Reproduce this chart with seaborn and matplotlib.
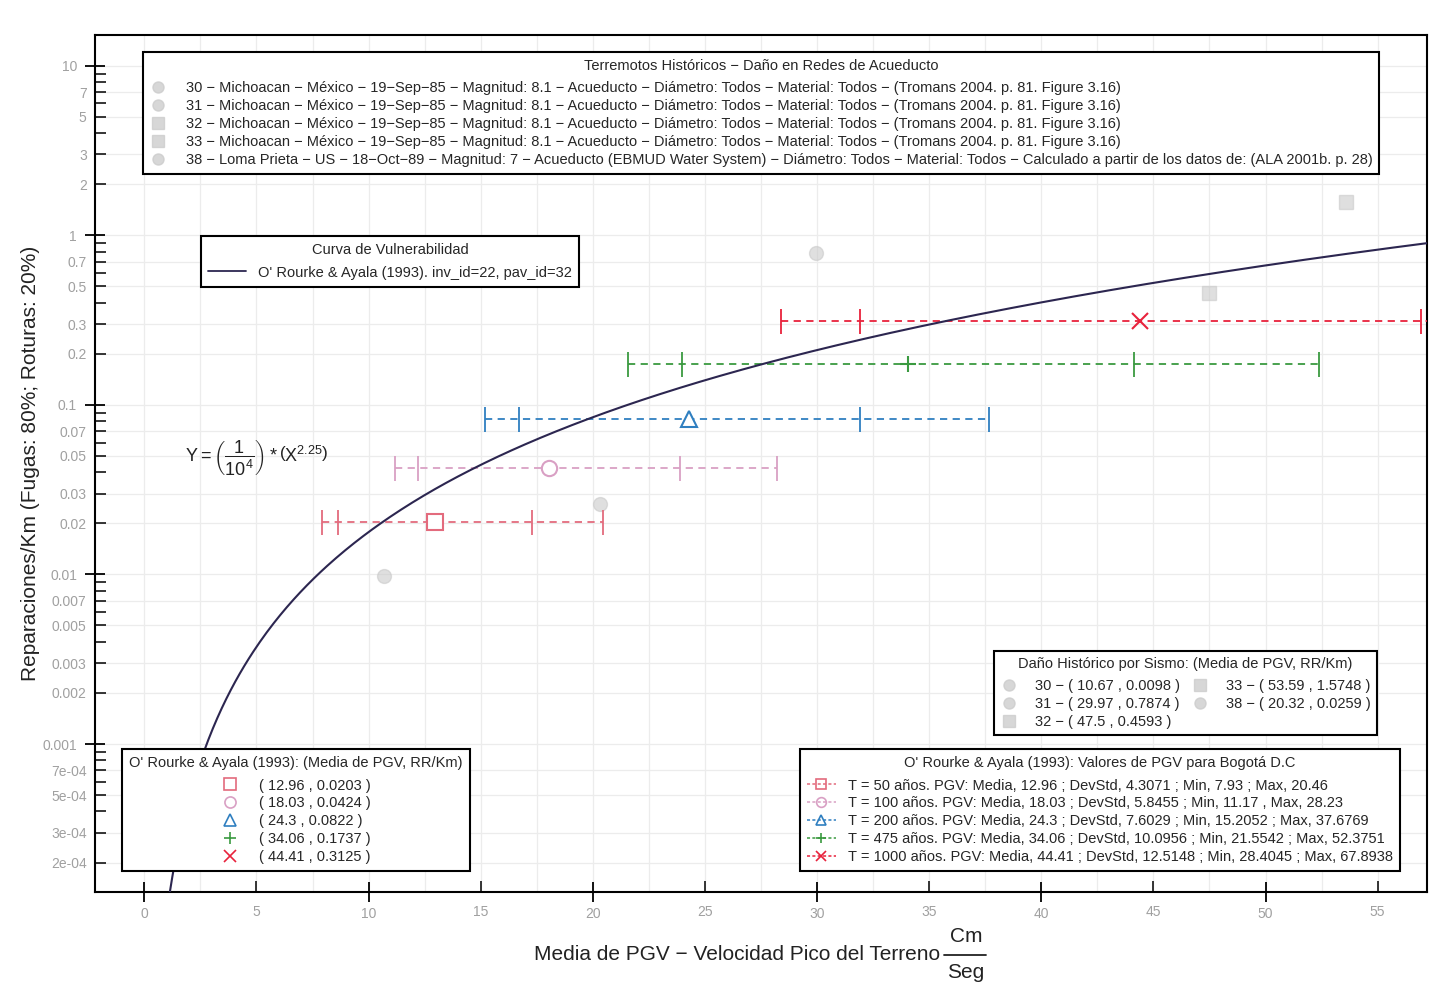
import numpy as np
import pandas as pd
import matplotlib
matplotlib.use("Agg")
import matplotlib.pyplot as plt
import seaborn as sns
from matplotlib.lines import Line2D
from matplotlib.ticker import LogLocator, FuncFormatter, MultipleLocator

# ---------------- data ----------------
coef = 1e-4
expo = 2.25
curve_x_range = (0.05, 60.0)

periodos = ["50", "100", "200", "475", "1000"]
media = [12.96, 18.03, 24.3, 34.06, 44.41]
devstd = [4.3071, 5.8455, 7.6029, 10.0956, 12.5148]
pgv_min = [7.93, 11.17, 15.2052, 21.5542, 28.4045]
pgv_max = [20.46, 28.23, 37.6769, 52.3751, 67.8938]
rr_media = [0.0203, 0.0424, 0.0822, 0.1737, 0.3125]
esc_labels = [
    "T = 50 años. PGV: Media, 12.96 ; DevStd, 4.3071 ; Min, 7.93 ; Max, 20.46",
    "T = 100 años. PGV: Media, 18.03 ; DevStd, 5.8455 ; Min, 11.17 , Max, 28.23",
    "T = 200 años. PGV: Media, 24.3 ; DevStd, 7.6029 ; Min, 15.2052 ; Max, 37.6769",
    "T = 475 años. PGV: Media, 34.06 ; DevStd, 10.0956 ; Min, 21.5542 ; Max, 52.3751",
    "T = 1000 años. PGV: Media, 44.41 ; DevStd, 12.5148 ; Min, 28.4045 ; Max, 67.8938",
]

hist_id = [30, 31, 32, 33, 38]
hist_pgv = [10.67, 29.97, 47.5, 53.59, 20.32]
hist_rr = [0.0098, 0.7874, 0.4593, 1.5748, 0.0259]
hist_labels = [
    "30 − Michoacan − México − 19−Sep−85 − Magnitud: 8.1 − Acueducto − Diámetro: Todos − Material: Todos − (Tromans 2004. p. 81. Figure 3.16)",
    "31 − Michoacan − México − 19−Sep−85 − Magnitud: 8.1 − Acueducto − Diámetro: Todos − Material: Todos − (Tromans 2004. p. 81. Figure 3.16)",
    "32 − Michoacan − México − 19−Sep−85 − Magnitud: 8.1 − Acueducto − Diámetro: Todos − Material: Todos − (Tromans 2004. p. 81. Figure 3.16)",
    "33 − Michoacan − México − 19−Sep−85 − Magnitud: 8.1 − Acueducto − Diámetro: Todos − Material: Todos − (Tromans 2004. p. 81. Figure 3.16)",
    "38 − Loma Prieta − US − 18−Oct−89 − Magnitud: 7 − Acueducto (EBMUD Water System) − Diámetro: Todos − Material: Todos − Calculado a partir de los datos de: (ALA 2001b. p. 28)",
]

xlabel_text = "Media de PGV − Velocidad Pico del Terreno"
xlabel_num = "Cm"
xlabel_den = "Seg"
ylabel_text = "Reparaciones/Km (Fugas: 80%; Roturas: 20%)"

# ---------------- style ----------------
sns.set_theme(style="white")
plt.rcParams["font.family"] = ["Liberation Sans", "DejaVu Sans"]
plt.rcParams["mathtext.fontset"] = "custom"
plt.rcParams["mathtext.rm"] = "Liberation Sans"
plt.rcParams["mathtext.it"] = "Liberation Sans"

esc_colors = ["#e36b7d", "#d9a0c4", "#2f7fc0", "#3a9a40", "#e8223c"]
esc_markers = ["s", "o", "^", "+", "x"]
hist_markers = ["o", "o", "s", "s", "o"]
hist_color = "#cacaca"
tick_gray = "#a0a0a0"
text_dark = "#222222"

W, H = 1446, 984
fig = plt.figure(figsize=(W / 100, H / 100), dpi=100)
ax = fig.add_axes([95 / W, 1 - 892 / H, (1427 - 95) / W, (892 - 35) / H])

ax.set_yscale("log")
ax.set_xlim(-2.2, 57.2)
ax.set_ylim(1.34e-4, 15.2)

# faint grid
for gx in np.arange(0, 57.5, 2.5):
    ax.axvline(gx, color="#ececec", lw=0.9, zorder=0)
for dec in [1e-4, 1e-3, 1e-2, 1e-1, 1, 10]:
    for m in [1, 2, 3, 5, 7]:
        ax.axhline(dec * m, color="#ececec", lw=0.9, zorder=0)

# vulnerability curve
cx = np.linspace(curve_x_range[0], curve_x_range[1], 600)
df_curve = pd.DataFrame({"pgv": cx, "rr": coef * cx ** expo})
sns.lineplot(data=df_curve, x="pgv", y="rr", color="#2c2650", lw=1.5, ax=ax, zorder=5,
             legend=False)

# historical points
for i in range(len(hist_id)):
    ax.plot(hist_pgv[i], hist_rr[i], marker=hist_markers[i], ms=10, color=hist_color,
            mec=hist_color, alpha=0.6, ls="none", zorder=3)

# scenario bars
for i in range(len(media)):
    y = rr_media[i]
    ax.hlines(y, pgv_min[i], pgv_max[i], colors=esc_colors[i], linestyles=(0, (4, 3)),
              lw=1.3, zorder=4)
    ticks_x = [pgv_min[i], media[i] - devstd[i], media[i] + devstd[i], pgv_max[i]]
    ax.plot(ticks_x, [y] * 4, ls="none", marker="|", ms=18, mew=1.3,
            color=esc_colors[i], zorder=4)
    ax.plot(media[i], y, ls="none", marker=esc_markers[i], ms=11,
            mfc="white" if esc_markers[i] in "so^" else esc_colors[i],
            mec=esc_colors[i], mew=1.5, zorder=6)

# equation
ax.text(5.0, 0.049, r"$\mathrm{Y}=\left(\dfrac{1}{10^4}\right)*\left(\mathrm{X}^{2.25}\right)$",
        ha="center", va="center", fontsize=13, color=text_dark, zorder=7)

# ticks
ax.xaxis.set_major_locator(MultipleLocator(10))
ax.xaxis.set_minor_locator(MultipleLocator(5))
ax.xaxis.set_major_formatter(FuncFormatter(lambda v, p: f"{v:g}"))
ax.xaxis.set_minor_formatter(FuncFormatter(lambda v, p: f"{v:g}"))
ax.yaxis.set_major_locator(LogLocator(base=10, numticks=20))
ax.yaxis.set_minor_locator(LogLocator(base=10, subs=np.arange(2, 10), numticks=20))


def yfmt(v, p):
    mant = v / 10 ** np.floor(np.log10(v) + 1e-9)
    if round(mant) not in (1, 2, 3, 5, 7):
        return ""
    if v < 0.00099:
        return "%.0e" % v
    return "%g" % float("%.1g" % v)


ax.yaxis.set_major_formatter(FuncFormatter(yfmt))
ax.yaxis.set_minor_formatter(FuncFormatter(yfmt))
ax.tick_params(axis="both", which="major", direction="inout", length=14, width=1.3,
               color="black", labelcolor=tick_gray, labelsize=10, left=True, bottom=True)
ax.tick_params(axis="both", which="minor", direction="in", length=8, width=1.1,
               color="black", labelcolor=tick_gray, labelsize=10, left=True, bottom=True)
ax.tick_params(axis="x", which="major", pad=4)
ax.tick_params(axis="x", which="minor", pad=9)
ax.tick_params(axis="y", which="both", pad=6)
for s in ax.spines.values():
    s.set_visible(True)
    s.set_color("black")
    s.set_linewidth(1.5)

# axis labels
ax.set_xlabel("")
fig.text(940 / W, 1 - 955 / H, xlabel_text, ha="right", va="center", fontsize=15,
         color=text_dark)
fig.text(966 / W, 1 - 937 / H, xlabel_num, ha="center", va="center", fontsize=15,
         color=text_dark)
fig.text(966 / W, 1 - 972 / H, xlabel_den, ha="center", va="center", fontsize=15,
         color=text_dark)
fig.add_artist(Line2D([944 / W, 986 / W], [1 - 955 / H, 1 - 955 / H], color=text_dark,
                      lw=1.3, transform=fig.transFigure))
ax.set_ylabel(ylabel_text, fontsize=15, color=text_dark, labelpad=2)

# ---------------- legends ----------------
FS = 10.5
leg_kw = dict(frameon=True, fancybox=False, framealpha=1, borderaxespad=0, fontsize=FS,
              title_fontsize=FS, edgecolor="black")


def style(leg, sep=6.0):
    leg.get_frame().set_linewidth(1.5)
    leg.set_zorder(10)
    leg._legend_box.sep = sep
    return leg


h1 = [Line2D([], [], ls="none", marker=hist_markers[i], ms=8, color=hist_color, alpha=0.75)
      for i in range(len(hist_id))]
leg1 = style(ax.legend(h1, hist_labels, loc="upper center", bbox_to_anchor=(0.5, 0.98),
                       title="Terremotos Históricos − Daño en Redes de Acueducto",
                       handlelength=1.2, handletextpad=1.3, labelspacing=0.28,
                       borderpad=0.45, **leg_kw))
ax.add_artist(leg1)

h2 = [Line2D([], [], color="#2c2650", lw=1.3)]
leg2 = style(ax.legend(h2, ["O' Rourke & Ayala (1993). inv_id=22, pav_id=32"], loc="upper left",
                       bbox_to_anchor=(0.0796, 0.7655), title="Curva de Vulnerabilidad",
                       handlelength=2.6, labelspacing=0.26, borderpad=0.5, **leg_kw))
ax.add_artist(leg2)

h3 = [Line2D([], [], ls="none", marker=hist_markers[i], ms=8, color=hist_color, alpha=0.75)
      for i in range(len(hist_id))]
lab3 = [f"{hist_id[i]} − ( {hist_pgv[i]:g} , {hist_rr[i]:g} )" for i in range(len(hist_id))]
leg3 = style(ax.legend(h3, lab3, loc="upper right", bbox_to_anchor=(0.9625, 0.281), ncol=2,
                       title="Daño Histórico por Sismo: (Media de PGV, RR/Km)",
                       handlelength=1.2, handletextpad=1.2, columnspacing=0.8,
                       labelspacing=0.26, borderpad=0.4, **leg_kw))
ax.add_artist(leg3)

h4 = [Line2D([], [], ls="none", marker=esc_markers[i], ms=8, mfc="none", mec=esc_colors[i],
             mew=1.2) for i in range(len(media))]
lab4 = [f"( {media[i]:g} , {rr_media[i]:g} )" for i in range(len(media))]
leg4 = style(ax.legend(h4, lab4, loc="upper left", bbox_to_anchor=(0.0203, 0.1669),
                       title="O' Rourke & Ayala (1993): (Media de PGV, RR/Km)",
                       handlelength=1.2, handletextpad=1.4, labelspacing=0.26,
                       borderpad=0.5, **leg_kw))
ax.add_artist(leg4)

h5 = [Line2D([], [], ls=(0, (2, 1.5)), lw=1.1, marker=esc_markers[i], ms=7, mfc="none",
             mec=esc_colors[i], color=esc_colors[i], mew=1.2) for i in range(len(media))]
leg5 = style(ax.legend(h5, esc_labels, loc="upper right", bbox_to_anchor=(0.9797, 0.1669),
                       title="O' Rourke & Ayala (1993): Valores de PGV para Bogotá D.C",
                       handlelength=2.0, handletextpad=0.8, labelspacing=0.26,
                       borderpad=0.5, **leg_kw))

fig.savefig("out.png", dpi=100)
